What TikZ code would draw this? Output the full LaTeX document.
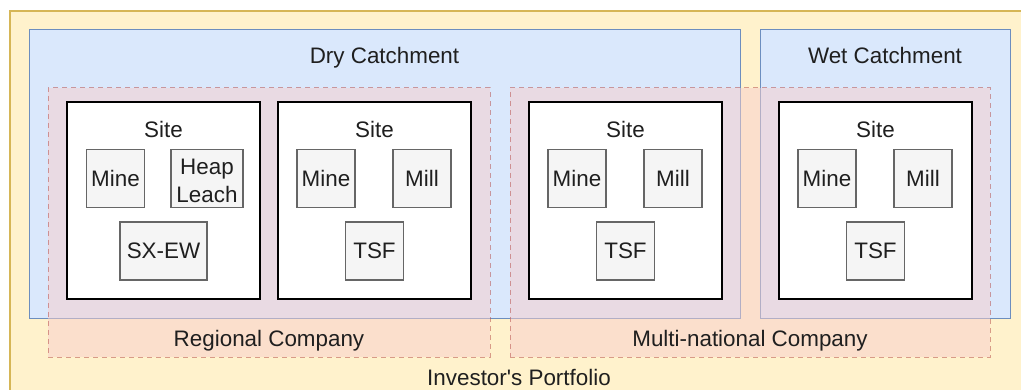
\documentclass[tikz,border=0pt]{standalone}
\usepackage{fontspec}
\setmainfont{Liberation Sans}
\begin{document}
\begin{tikzpicture}[x=1pt,y=-1pt,
  box/.style={rectangle,inner sep=0pt,outer sep=0pt},
  portfolio/.style={box,fill=yellowfill,draw=yellowline,line width=1.2pt},
  catchment/.style={box,fill=bluefill,draw=blueline,line width=1pt},
  company/.style={box,fill=redfill,fill opacity=0.5,draw=redline,draw opacity=0.55,dashed,dash pattern=on 5pt off 4pt,line width=1pt},
  sitebox/.style={box,fill=white,draw=black,line width=1.8pt},
  unit/.style={box,fill=unitfill,draw=unitline,line width=1.5pt,minimum width=58pt,minimum height=58pt},
  lbl/.style={inner sep=0pt,anchor=base,font=\fontsize{22.4}{28}\selectfont,text=black!88,align=center}
]
\definecolor{yellowfill}{HTML}{FFF2CC}
\definecolor{yellowline}{HTML}{D6B656}
\definecolor{bluefill}{HTML}{DAE8FC}
\definecolor{blueline}{HTML}{6C8EBF}
\definecolor{redfill}{HTML}{F8CECC}
\definecolor{redline}{HTML}{B85450}
\definecolor{unitfill}{HTML}{F5F5F5}
\definecolor{unitline}{HTML}{666666}

\clip (0,0) rectangle (1021,390);
\fill[white] (0,0) rectangle (1021,390);

% investor's portfolio
\node[portfolio,minimum width=1018pt,minimum height=389pt] (portfolio) at (519,205.5) {};
\node[lbl] (portfoliolbl) at (519,385) {Investor\textquotesingle s Portfolio};

% catchments
\node[catchment,minimum width=711pt,minimum height=289pt] (dry) at (384.5,174.5) {};
\node[lbl] (drylbl) at (384.5,63.3) {Dry Catchment};
\node[catchment,minimum width=250pt,minimum height=289pt] (wet) at (885,174.5) {};
\node[lbl] (wetlbl) at (885,63.3) {Wet Catchment};

% companies
\node[company,minimum width=442pt,minimum height=269pt] (regional) at (269,222.5) {};
\node[lbl] (regionallbl) at (269,346.7) {Regional Company};
\node[company,minimum width=480pt,minimum height=269pt] (multi) at (750,222.5) {};
\node[lbl] (multilbl) at (750,346.7) {Multi-national Company};

% sites
\foreach \n/\cx in {1/163.5,2/374.5,3/625.5,4/875.5}{
  \node[sitebox,minimum width=193pt,minimum height=197pt] (site\n) at (\cx,200.5) {};
  \node[lbl] (site\n lbl) at (\cx,137.3) {Site};
}

% site 1: heap leach operation
\node[unit] (mine1) at (115.5,178.5) {};
\node[lbl] at ([yshift=-8pt]mine1.center) {Mine};
\node[unit,minimum width=72pt] (heap1) at (207,178.5) {};
\node[lbl] at (207,175) {Heap};
\node[lbl] at (207,203) {Leach};
\node[unit,minimum width=87pt] (sxew1) at (163.5,251) {};
\node[lbl] at ([yshift=-8pt]sxew1.center) {SX-EW};

% sites 2-4: mine, mill and tailings storage
\foreach \n/\cx in {2/374.5,3/625.5,4/875.5}{
  \node[unit] (mine\n) at (\cx-48.5,178.5) {};
  \node[lbl] at ([yshift=-8pt]mine\n.center) {Mine};
  \node[unit] (mill\n) at (\cx+47.5,178.5) {};
  \node[lbl] at ([yshift=-8pt]mill\n.center) {Mill};
  \node[unit] (tsf\n) at (\cx,251) {};
  \node[lbl] at ([yshift=-8pt]tsf\n.center) {TSF};
}
\end{tikzpicture}
\end{document}
